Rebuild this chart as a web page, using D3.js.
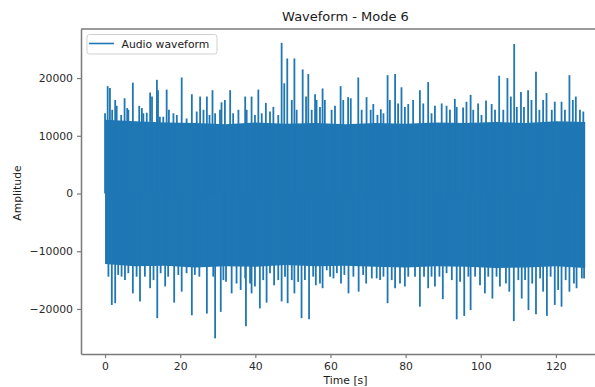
<!DOCTYPE html>
<html>
<head>
<meta charset="utf-8">
<script src="https://cdn.jsdelivr.net/npm/d3@7"></script>
<style>
  body { margin: 0; background: #fff; }
  svg text { font-family: "DejaVu Sans", sans-serif; }
</style>
</head>
<body>
<div id="chart"></div>
<script>
// values (time in s, amplitude)
let peakTimes = [0.0, 0.7, 1.3, 1.9, 2.7, 3.1, 4.3, 5.2, 5.9, 6.2, 7.4, 9.1, 9.8, 10.2, 11.1, 12.0, 12.5, 13.8, 14.1, 14.6,
  15.5, 16.4, 17.0, 18.2, 19.1, 20.4, 21.7, 23.1, 24.4, 25.3, 26.2, 27.1, 27.8, 28.6, 29.3, 30.6, 31.0, 31.9, 33.3, 34.1,
  35.5, 37.3, 37.7, 39.0, 39.9, 40.8, 41.7, 42.8, 43.9, 44.8, 46.1, 47.0, 47.7, 48.5, 49.7, 50.4, 51.0,
  52.6, 53.5, 54.1, 55.0, 55.9, 56.3, 57.2, 57.9, 58.5, 60.3, 61.2, 62.7, 63.4, 64.7, 65.4, 67.4, 68.3, 69.6, 70.7,
  71.4, 72.5, 73.4, 74.1, 75.2, 75.8, 77.2, 78.0, 78.9, 79.8, 80.7, 82.0, 83.8, 84.7, 86.0, 86.9, 87.8, 89.6, 90.9,
  91.8, 93.1, 93.6, 95.3, 96.2, 97.3, 98.0, 99.3, 100.2, 101.4, 102.9, 103.8, 104.9, 106.0, 107.1, 108.0, 108.9, 109.6,
  110.7, 111.5, 112.6, 113.5, 114.7, 115.6, 116.6, 117.5, 118.9, 119.7, 121.5, 122.4, 123.6, 124.5, 125.3, 126.4, 127.3];
let peakValues = [13900, 18600, 18300, 14500, 16200, 15200, 13600, 16500, 14800, 14500, 19200, 15200, 14800, 13900, 14000, 17500, 16800, 19700, 17900, 13300,
  13300, 18000, 14500, 13900, 13600, 20100, 13000, 17200, 14200, 16800, 14500, 16800, 13600, 17900, 13900, 14500, 15800, 16200, 17900, 13900,
  14500, 16800, 14500, 16800, 13600, 18000, 13900, 15700, 14200, 15000, 13600, 26100, 19100, 23400, 16200, 23400, 14500,
  21500, 16800, 20700, 14500, 17200, 16200, 15000, 18200, 16200, 14500, 15200, 18600, 16200, 16700, 16500, 20100, 14500, 16700, 14500,
  15500, 13600, 14600, 13900, 20500, 16200, 20700, 15600, 18400, 15000, 15500, 16200, 17900, 15600, 19300, 13900, 15200, 15600, 15200,
  14500, 16400, 15000, 14900, 15900, 17100, 14500, 15600, 13600, 16100, 15500, 14500, 20400, 14500, 20000, 16800, 25900, 15000,
  17600, 15000, 17900, 16200, 21100, 14500, 16200, 17400, 14500, 15900, 15900, 14500, 20500, 16200, 16800, 14500, 14200];

let troughTimes = [0.9, 1.8, 2.7, 3.5, 4.4, 5.3, 6.2, 7.4, 8.4, 9.3, 10.6, 12.0, 12.9, 13.9, 14.8, 16.0, 16.8, 18.4, 19.5, 20.4,
  21.7, 23.1, 23.9, 25.1, 27.1, 28.8, 29.3, 30.8, 31.5, 32.2, 33.7, 35.0, 36.1, 37.3, 37.5, 38.6, 39.0, 39.9, 41.2, 42.1,
  43.0, 43.9, 45.0, 46.1, 47.0, 47.9, 48.6, 49.7, 50.4, 51.4,
  52.3, 53.2, 54.3, 55.4, 56.1, 57.2, 57.9, 59.0, 59.9, 60.8, 61.7, 62.8, 63.7, 64.8, 66.1, 67.5, 68.7, 69.5, 71.0, 72.3,
  73.2, 74.1, 75.2, 76.3, 77.2, 78.5, 79.8, 80.7, 82.5, 83.8, 84.9, 86.0, 86.9, 87.8, 89.0, 89.9, 90.9, 92.3, 93.6, 94.5,
  95.6, 96.7, 97.3, 98.5, 99.8, 101.1, 102.0, 103.1, 104.2, 105.1, 106.7, 107.6, 108.8, 110.0, 110.9, 111.8, 112.7, 113.7,
  114.7, 115.8, 116.6, 117.6, 118.6, 119.7, 120.6, 121.5, 122.6, 123.6, 124.8, 125.5, 126.9, 127.5];
let troughValues = [-14400, -19300, -19000, -14100, -14400, -15000, -13800, -17300, -14400, -18700, -14400, -16400, -15000, -21600, -13800, -16100, -14400, -18900, -14100, -17000,
  -13800, -21100, -14100, -14400, -20800, -14400, -25100, -20500, -15000, -15300, -17300, -15600, -16700, -14700, -23000, -15600, -17300, -16100, -19900, -15000,
  -18900, -13800, -15900, -15000, -18700, -14400, -19000, -15000, -17300, -15300,
  -21600, -15000, -21800, -14400, -15900, -15600, -16400, -13300, -14400, -14700, -13800, -15600, -14100, -17300, -14400, -17000, -14100, -15600, -14700, -14700,
  -15000, -14400, -19000, -15000, -16400, -15600, -16100, -14400, -14400, -19600, -14400, -16400, -14400, -16100, -14400, -18300, -13800, -15000, -21800, -15300,
  -21200, -14400, -20200, -14400, -15900, -17300, -14400, -18200, -14400, -16100, -15600, -17000, -22100, -15000, -18200, -15000, -20200, -15600,
  -20900, -14700, -17000, -21200, -14400, -19300, -16700, -19600, -15000, -17000, -15600, -16400, -14700, -14700];

// dense body of the waveform
let coreTimes = [0, 8, 16, 24, 32, 40, 48, 56, 64, 72, 80, 88, 96, 104, 112, 120, 127.8];
let coreTop = [12800, 12500, 12300, 12200, 12000, 12300, 12100, 12200, 12000, 12200, 12100, 12300, 12200, 12400, 12200, 12500, 12400];
let coreBottom = [-12200, -12600, -12500, -12800, -12600, -12700, -12400, -12600, -12500, -12700, -12800, -12600, -12700, -12900, -12800, -12600, -12900];

let xTicks = [0, 20, 40, 60, 80, 100, 120];
let yTicks = [-20000, -10000, 0, 10000, 20000];

let svgWidth = 595;
let svgHeight = 387;
let blue = "#1f77b4";
let spineColor = "#7a7a7a";

let plot = { left: 81, right: 610, top: 29, bottom: 354 };

let svg = d3.select("#chart")
  .append("svg")
  .attr("width", svgWidth)
  .attr("height", svgHeight);

let x = d3.scaleLinear().domain([-6.4, 134.4]).range([plot.left, plot.right]);
let y = d3.scaleLinear().domain([-27800, 28500]).range([plot.bottom, plot.top]);

svg.append("clipPath").attr("id", "clip")
  .append("rect")
  .attr("x", plot.left).attr("y", plot.top)
  .attr("width", plot.right - plot.left).attr("height", plot.bottom - plot.top);

let plotArea = svg.append("g").attr("clip-path", "url(#clip)");

// body
let core = coreTimes.map((t, i) => ({ t: t, hi: coreTop[i], lo: coreBottom[i] }));
plotArea.append("path")
  .datum(core)
  .attr("fill", blue)
  .attr("d", d3.area().x(d => x(d.t)).y0(d => y(d.lo)).y1(d => y(d.hi)));

// spikes
let spikes = peakTimes.map((t, i) => ({ t: t, v: peakValues[i] }))
  .concat(troughTimes.map((t, i) => ({ t: t, v: troughValues[i] })));

plotArea.selectAll("line.spike")
  .data(spikes)
  .enter()
  .append("line")
  .attr("class", "spike")
  .attr("x1", d => x(d.t))
  .attr("x2", d => x(d.t))
  .attr("y1", y(0))
  .attr("y2", d => y(d.v))
  .attr("stroke", blue)
  .attr("stroke-width", 1.8);

// axes
let fmt = d => d < 0 ? "\u2212" + Math.abs(d) : String(d);

let xAxis = svg.append("g")
  .attr("transform", `translate(0,${plot.bottom})`)
  .call(d3.axisBottom(x).tickValues(xTicks).tickSizeInner(4).tickSizeOuter(0).tickPadding(4).tickFormat(fmt));

let yAxis = svg.append("g")
  .attr("transform", `translate(${plot.left},0)`)
  .call(d3.axisLeft(y).tickValues(yTicks).tickSizeInner(4).tickSizeOuter(0).tickPadding(4).tickFormat(fmt));

[xAxis, yAxis].forEach(a => {
  a.select(".domain").attr("stroke", spineColor).attr("stroke-width", 1.5);
  a.selectAll(".tick line").attr("stroke", spineColor).attr("stroke-width", 1.2);
  a.selectAll(".tick text")
    .attr("fill", "#2a2a2a")
    .style("font-size", "10.8px")
    .style("font-family", "DejaVu Sans, sans-serif");
});

// top spine
svg.append("line")
  .attr("x1", plot.left).attr("x2", plot.right)
  .attr("y1", plot.top).attr("y2", plot.top)
  .attr("stroke", spineColor)
  .attr("stroke-width", 1.5);

// title and labels
svg.append("text")
  .attr("x", (plot.left + plot.right) / 2)
  .attr("y", 21)
  .attr("text-anchor", "middle")
  .attr("fill", "#1a1a1a")
  .style("font-size", "13px")
  .text("Waveform - Mode 6");

svg.append("text")
  .attr("transform", "translate(20.5,193) rotate(-90)")
  .attr("text-anchor", "middle")
  .attr("fill", "#1a1a1a")
  .style("font-size", "10.8px")
  .text("Amplitude");

svg.append("text")
  .attr("x", (plot.left + plot.right) / 2)
  .attr("y", 384)
  .attr("text-anchor", "middle")
  .attr("fill", "#1a1a1a")
  .style("font-size", "10.8px")
  .text("Time [s]");

// legend
let legend = svg.append("g");
legend.append("rect")
  .attr("x", 87).attr("y", 34.5)
  .attr("width", 130).attr("height", 19.5)
  .attr("rx", 2.5)
  .attr("fill", "#fff").attr("fill-opacity", 0.8)
  .attr("stroke", "#d0d0d0").attr("stroke-width", 1);
legend.append("line")
  .attr("x1", 89).attr("x2", 114)
  .attr("y1", 43.5).attr("y2", 43.5)
  .attr("stroke", blue).attr("stroke-width", 1.6);
legend.append("text")
  .attr("x", 121.5).attr("y", 47.8)
  .attr("fill", "#1a1a1a")
  .style("font-size", "10.8px")
  .text("Audio waveform");
</script>
</body>
</html>
